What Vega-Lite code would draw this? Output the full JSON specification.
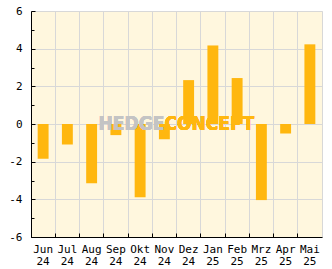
{
  "$schema": "https://vega.github.io/schema/vega-lite/v6.json",
  "autosize": "none",
  "width": 291,
  "height": 226,
  "padding": {"left": 31, "top": 11, "right": 10, "bottom": 32},
  "background": "#ffffff",
  "config": {
    "view": {"fill": "#fff7de", "stroke": "#d8d8d8", "strokeWidth": 1},
    "axis": {
      "labelFont": "DejaVu Sans Mono",
      "labelFontSize": 11,
      "labelColor": "#000000",
      "domainColor": "#000000",
      "domainWidth": 1,
      "tickColor": "#000000",
      "gridColor": "#d8d8d8",
      "gridWidth": 1,
      "title": null
    }
  },
  "data": {
    "values": [
      {"month": "Jun 24", "value": -1.84},
      {"month": "Jul 24", "value": -1.09},
      {"month": "Aug 24", "value": -3.15},
      {"month": "Sep 24", "value": -0.59},
      {"month": "Okt 24", "value": -3.89},
      {"month": "Nov 24", "value": -0.81},
      {"month": "Dez 24", "value": 2.33},
      {"month": "Jan 25", "value": 4.17},
      {"month": "Feb 25", "value": 2.44},
      {"month": "Mrz 25", "value": -4.04},
      {"month": "Apr 25", "value": -0.5},
      {"month": "Mai 25", "value": 4.23}
    ]
  },
  "encoding": {
    "x": {
      "field": "month",
      "type": "nominal",
      "sort": null,
      "scale": {"paddingInner": 0, "paddingOuter": 0},
      "axis": {
        "bandPosition": 0,
        "labelAngle": 0,
        "labelAlign": "center",
        "labelBaseline": "top",
        "labelPadding": 10,
        "labelLineHeight": 12,
        "labelExpr": "split(datum.label, ' ')",
        "tickSize": -4,
        "grid": true,
        "domain": true
      }
    },
    "y": {
      "field": "value",
      "type": "quantitative",
      "scale": {"domain": [-6, 6], "nice": false},
      "axis": {
        "values": [-6, -5, -4, -3, -2, -1, 0, 1, 2, 3, 4, 5, 6],
        "labelExpr": "datum.value % 2 === 0 ? replace(datum.label, '−', '-') : ''",
        "tickSize": {"condition": {"test": "datum.value % 2 !== 0", "value": -3}, "value": -4},
        "gridOpacity": {"condition": {"test": "datum.value % 2 !== 0", "value": 0}, "value": 1},
        "labelPadding": 13,
        "grid": true
      }
    }
  },
  "layer": [
    {
      "mark": {"type": "bar", "color": "#ffb70f", "width": {"band": 0.45}}
    },
    {
      "mark": {"type": "text", "text": "HEDGE", "align": "right", "baseline": "middle", "font": "'DejaVu Sans Condensed', 'Liberation Sans', sans-serif", "fontWeight": "bold", "fontSize": 19, "color": "#c4c4c4", "opacity": 0.45},
      "encoding": {"x": {"datum": "Nov 24"}, "y": {"datum": 0}}
    },
    {
      "mark": {"type": "text", "text": "CONCEPT", "align": "left", "baseline": "middle", "font": "'DejaVu Sans Condensed', 'Liberation Sans', sans-serif", "fontWeight": "bold", "fontSize": 19, "color": "#ffb70f", "opacity": 0.5},
      "encoding": {"x": {"datum": "Nov 24"}, "y": {"datum": 0}}
    }
  ]
}
